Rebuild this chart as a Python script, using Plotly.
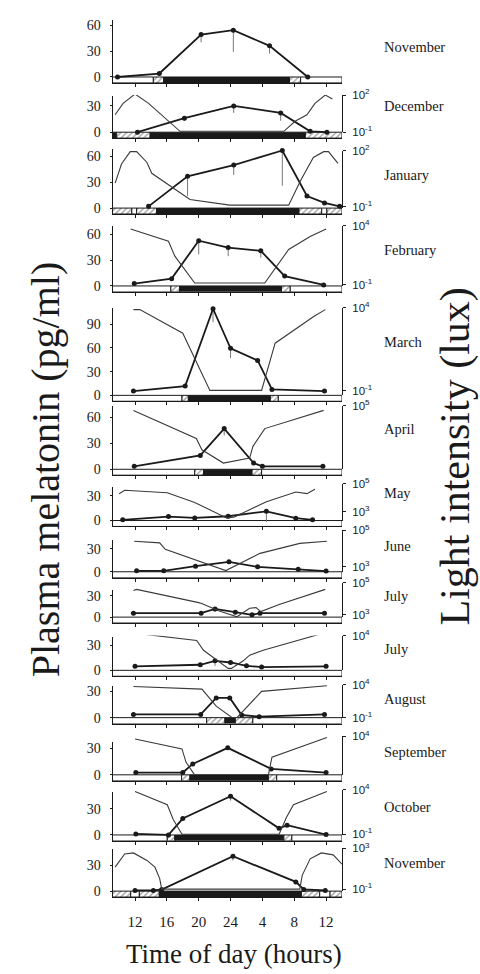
import plotly.graph_objects as go

# ---------------------------------------------------------------- data
MONTHS = ["November", "December", "January", "February", "March", "April",
          "May", "June", "July", "July", "August", "September", "October",
          "November"]

HOUR_TICKS = [12, 16, 20, 24, 28, 32, 36]
HOUR_LABELS = ["12", "16", "20", "24", "4", "8", "12"]

# plasma melatonin (pg/ml): sampling time (h, continuous clock), mean, lower SE
MEL_TIME = [
    [9.8, 15.05, 20.3, 24.35, 28.9, 33.7],
    [12.3, 18.2, 24.4, 30.3, 34.0, 36.1],
    [13.7, 18.6, 24.4, 30.5, 33.6, 35.8, 37.7],
    [11.9, 16.6, 20.0, 23.7, 27.8, 30.8, 35.7],
    [11.8, 18.3, 21.8, 24.0, 27.4, 29.2, 35.8],
    [11.9, 20.2, 23.2, 26.9, 28.0, 35.6],
    [10.45, 16.2, 19.5, 23.7, 28.5, 32.2, 34.3],
    [12.2, 15.6, 19.6, 23.8, 27.4, 32.5, 36.0],
    [11.8, 20.3, 22.05, 24.6, 26.7, 27.7, 35.8],
    [12.0, 20.2, 22.05, 24.0, 26.0, 27.9, 36.0],
    [11.8, 20.25, 22.2, 23.9, 25.4, 27.6, 35.8],
    [12.1, 18.0, 19.25, 23.65, 29.1, 36.0],
    [12.1, 16.2, 18.0, 24.0, 30.1, 31.1, 36.0],
    [12.0, 14.3, 15.35, 24.3, 32.2, 33.2, 35.9],
]
MEL_VALUE = [
    [0, 4, 49, 54, 36, 0],
    [0, 16, 30, 22, 1, 0],
    [2, 37, 50, 67, 14, 6, 2],
    [2.7, 8.5, 52.7, 44.7, 40.9, 11.5, 1.2],
    [5.4, 11.7, 109.6, 59.6, 44.2, 7.5, 5.4],
    [3.4, 15.9, 46.8, 7.1, 3.4, 3.4],
    [0.8, 4.8, 3.2, 5.2, 11.2, 2.8, 0.8],
    [1.3, 1.3, 7.3, 12.9, 6.4, 3.4, 0.9],
    [5.5, 5.5, 11.5, 6.9, 3.2, 5.5, 5.5],
    [4.7, 6.6, 11.3, 9.3, 5.4, 3.9, 4.7],
    [3.7, 3.7, 22.5, 22.5, 3.0, 1.1, 3.7],
    [2.6, 2.6, 12.4, 30.7, 6.7, 2.6],
    [1.1, 0, 18.7, 44.2, 7.5, 11.2, 0.4],
    [0.8, 0.8, 1.9, 40.8, 10.8, 1.9, 0.8],
]
MEL_ERR = [
    [0, 0, 9, 25, 9, 0],
    [0, 3, 8, 9, 0, 0],
    [0, 23, 11.5, 41, 0, 0, 0],
    [0, 0, 16, 10, 8, 0, 0],
    [0, 0, 17, 12.5, 0, 0, 0],
    [0, 3, 8, 0, 0, 0],
    [0, 0, 0, 3, 13, 0, 0],
    [0, 0, 0, 0, 0, 0, 0],
    [0, 0, 4, 0, 0, 0, 0],
    [0, 0, 6, 0, 0, 0, 0],
    [0, 0, 0, 0, 0, 0, 0],
    [0, 0, 0, 0, 0, 0],
    [0, 0, 0, 5, 0, 0, 0],
    [0, 0, 0, 5, 0, 0, 0],
]

# light intensity, log10(lux)
LIGHT_TIME = [
    None,
    [9.5, 10.5, 12.0, 13.7, 17.65, 30.7, 32.1, 33.6, 34.6, 35.9, 36.8],
    [9.5, 10.3, 11.4, 12.2, 13.5, 14.1, 18.9, 23.9, 31.3, 32.8, 34.4, 35.7, 36.3, 37.5],
    [11.45, 16.2, 17.0, 19.5, 28.3, 31.3, 34.0, 36.0],
    [11.8, 12.6, 18.0, 21.4, 27.9, 29.6, 34.4, 35.9],
    [11.8, 19.7, 20.4, 23.1, 26.4, 26.8, 28.3, 35.7],
    [10.0, 10.7, 16.05, 19.5, 23.5, 24.4, 28.5, 32.2, 33.6, 34.6],
    [11.9, 15.1, 15.8, 19.7, 23.4, 27.7, 32.7, 36.1],
    [11.8, 12.2, 20.0, 20.3, 22.5, 24.6, 24.8, 26.4, 27.2, 27.8, 30.2, 35.9],
    [12.0, 19.75, 20.6, 21.85, 23.7, 24.1, 25.6, 26.4, 28.1, 35.6, 35.9],
    [11.8, 20.4, 22.2, 24.2, 24.8, 27.9, 36.1],
    [12.0, 17.9, 18.4, 19.5, 28.75, 29.2, 36.1],
    [12.0, 16.05, 16.8, 17.9, 30.1, 31.0, 31.9, 36.1],
    [9.5, 10.7, 11.8, 13.5, 14.5, 15.1, 15.35, 32.7, 33.0, 34.0, 35.4, 36.9, 38.0],
]
LIGHT_LOG10 = [
    None,
    [0.41, 1.33, 2.08, 1.33, -0.93, -0.93, -0.12, 0.41, 1.33, 2.0, 1.68],
    [0.27, 1.3, 1.96, 1.96, 1.38, 0.8, -0.61, -0.91, -0.91, 0.41, 1.65, 1.96, 1.96, 1.33],
    [3.73, 2.69, 1.44, -0.83, -0.83, 2.0, 3.1, 3.73],
    [3.88, 3.88, 2.46, -0.98, -0.98, 1.86, 3.45, 3.88],
    [4.55, 1.96, 0.91, -0.31, 0.15, 1.21, 2.87, 4.55],
    [4.29, 4.53, 4.36, 3.66, 2.55, 2.6, 3.71, 4.41, 4.29, 4.6],
    [4.4, 4.31, 3.95, 3.37, 2.78, 3.73, 4.28, 4.4],
    [4.51, 4.58, 3.76, 3.72, 3.25, 2.88, 2.88, 3.41, 3.45, 3.2, 3.66, 4.58],
    [4.13, 3.72, 3.16, 2.75, 2.13, 2.13, 2.56, 2.88, 3.16, 4.13, 4.05],
    [3.75, 3.35, 0.75, -1.0, -1.0, 3.0, 3.85],
    [3.66, 2.42, 0.77, -0.88, -0.88, 1.39, 3.87],
    [3.81, 2.33, 0.67, -1.0, -1.0, 0.85, 2.33, 3.81],
    [1.16, 2.46, 2.56, 1.82, 1.16, 0.04, -1.0, -1.0, 0.36, 1.98, 2.56, 2.37, 1.45],
]

# photoperiod bar: switch times (h) and phase of each segment
# L = light, T = twilight, D = dark
PHOTO_SWITCH = [
    [14.3, 15.6, 31.4, 32.8],
    [9.7, 13.9, 33.4],
    [11.6, 12.2, 14.7, 32.6, 35.45, 36.1],
    [16.5, 17.6, 30.4, 31.5],
    [17.9, 18.7, 29.0, 30.0],
    [19.5, 20.6, 26.7, 27.9],
    [],
    [],
    [],
    [],
    [21.0, 23.3, 24.6, 26.8],
    [17.85, 18.9, 28.75, 29.8],
    [16.05, 17.0, 30.7, 31.7],
    [11.46, 12.54, 15.05, 32.9, 35.2, 36.5],
]
PHOTO_PHASE = [
    "LTDTL", "DTDT", "TLTDTLT", "LTDTL", "LTDTL", "LTDTL", "L", "L", "L", "L",
    "LTDTL", "LTDTL", "LTDTL", "TLTDTLT",
]

# ---------------------------------------------------------------- layout
W, H = 480, 974
X_MIN, X_MAX = 9.17, 38.0
X_LEFT_PX, X_RIGHT_PX = 112.5, 342.0
BAR_PX = 6.0

PANEL_TOP_PX = [12, 89, 143, 221, 304, 404, 486, 540, 590, 638, 688, 745, 795, 853]
PANEL_BASE_PX = [70, 126, 203, 282, 393, 468, 520, 572, 618, 672, 720, 778, 839, 896]
MEL_AXIS_MAX = [66, 41.6, 68.8, 70, 111, 72.5, 40.8, 41, 38.8, 39.7, 36, 37, 49.5, 49.6]
MEL_TICKS = [[0, 30, 60], [0, 30], [0, 30, 60], [0, 30, 60], [0, 30, 60, 90],
             [0, 30, 60], [0, 30], [0, 30], [0, 30], [0, 30], [0, 30], [0, 30],
             [0, 30], [0, 30]]
# labelled decades of the lux axis (upper, lower) and their pixel rows
LUX_EXP = [None, (2, -1), (2, -1), (4, -1), (4, -1), (5, -1), (5, 3), (5, 3),
           (5, 3), (4, 2), (4, -1), (4, -1), (4, -1), (3, -1)]
LUX_PX = [None, (88.3, 126), (145, 201.7), (221, 281), (304, 388.3),
          (403.3, 469.3), (482.7, 511), (530, 566.7), (583, 615.7),
          (636.7, 672.3), (686.7, 720), (739, 779.3), (793.3, 838.3),
          (852.7, 894)]
MONTH_Y_PX = [40, 99, 169, 246, 339, 427, 492, 546, 597, 650, 701, 755, 811, 867]

SERIF = "Liberation Serif"
SANS = "Liberation Sans"
INK = "#1a1a1a"


def fy(px):
    return 1 - px / H


def sup(e):
    return f"10<sup>{e}</sup>"


fig = go.Figure()
layout = {}
annotations = []
PHASE_COLOR = {"L": "white", "T": "white", "D": INK}
PHASE_SHAPE = {"L": "", "T": "/", "D": ""}

for i in range(14):
    n = i + 1
    xa = "x" if n == 1 else f"x{n}"
    ya = "y" if n == 1 else f"y{n}"
    xkey = "xaxis" if n == 1 else f"xaxis{n}"
    ykey = "yaxis" if n == 1 else f"yaxis{n}"
    top, base = PANEL_TOP_PX[i], PANEL_BASE_PX[i]
    ymax = MEL_AXIS_MAX[i]
    ppu = (base - top) / ymax
    ymin = -BAR_PX / ppu
    last = n == 14

    layout[xkey] = dict(
        domain=[X_LEFT_PX / W, X_RIGHT_PX / W], range=[X_MIN, X_MAX],
        anchor=ya, showline=True, linecolor=INK, linewidth=1,
        ticks="outside", ticklen=3, tickwidth=1, tickcolor=INK,
        tickvals=HOUR_TICKS, ticktext=HOUR_LABELS, showticklabels=last,
        tickfont=dict(family=SERIF, size=15, color=INK), ticklabelstandoff=8,
        showgrid=False, zeroline=False, fixedrange=True,
    )
    layout[ykey] = dict(
        domain=[fy(base + BAR_PX), fy(top)], range=[ymin, ymax], anchor=xa,
        showline=True, linecolor=INK, linewidth=1, ticks="outside",
        ticklen=2, tickcolor=INK, tickvals=MEL_TICKS[i],
        tickfont=dict(family=SERIF, size=14, color=INK), ticklabelstandoff=6,
        showgrid=False, zeroline=False, fixedrange=True,
    )

    # light intensity on its own log axis at the right
    if LIGHT_TIME[i] is not None:
        rn = 14 + n
        hi_e, lo_e = LUX_EXP[i]
        hi_px, lo_px = LUX_PX[i]
        ppd = (lo_px - hi_px) / (hi_e - lo_e)
        r_lo = lo_e - (base - lo_px) / ppd
        layout[f"yaxis{rn}"] = dict(
            domain=[fy(base), fy(hi_px)], type="log", range=[r_lo, hi_e],
            anchor=xa, side="right", showline=True, linecolor=INK,
            linewidth=1, ticks="outside", ticklen=3, tickcolor=INK,
            tickvals=[10 ** lo_e, 10 ** hi_e], ticktext=[sup(lo_e), sup(hi_e)],
            tickfont=dict(family=SANS, size=11.5, color=INK),
            ticklabelstandoff=4, showgrid=False, zeroline=False,
            fixedrange=True,
        )
        fig.add_trace(go.Scatter(
            x=LIGHT_TIME[i], y=[10 ** v for v in LIGHT_LOG10[i]],
            mode="lines", line=dict(color="#3a3a3a", width=1.1),
            xaxis=xa, yaxis=f"y{rn}", cliponaxis=False,
            showlegend=False, hoverinfo="skip",
        ))

    # photoperiod bar under the baseline
    edges = [X_MIN] + PHOTO_SWITCH[i] + [X_MAX]
    phases = list(PHOTO_PHASE[i])
    k = len(phases)
    fig.add_trace(go.Bar(
        orientation="h", y=[ymin / 2] * k,
        x=[edges[j + 1] - edges[j] for j in range(k)], base=edges[:-1],
        width=[-ymin] * k,
        marker=dict(
            color=[PHASE_COLOR[p] for p in phases],
            line=dict(color=INK, width=1),
            pattern=dict(shape=[PHASE_SHAPE[p] for p in phases],
                         fgcolor=INK, bgcolor="white", size=4, solidity=0.35),
        ),
        xaxis=xa, yaxis=ya, showlegend=False, hoverinfo="skip",
    ))

    # melatonin profile
    fig.add_trace(go.Scatter(
        x=MEL_TIME[i], y=MEL_VALUE[i], mode="lines+markers",
        line=dict(color=INK, width=1.8),
        marker=dict(color=INK, size=5),
        error_y=dict(type="data", symmetric=False,
                     array=[0] * len(MEL_ERR[i]), arrayminus=MEL_ERR[i],
                     width=0, thickness=1, color="#777777"),
        xaxis=xa, yaxis=ya, cliponaxis=False,
        showlegend=False, hoverinfo="skip",
    ))

    annotations.append(dict(
        text=MONTHS[i], x=382 / W, y=fy(MONTH_Y_PX[i]), xref="paper",
        yref="paper", xanchor="left", yanchor="middle", showarrow=False,
        font=dict(family=SERIF, size=14.5, color=INK),
    ))

annotations += [
    dict(text="Plasma melatonin (pg/ml)", x=45 / W, y=fy(468), xref="paper",
         yref="paper", textangle=-90, showarrow=False,
         xanchor="center", yanchor="middle",
         font=dict(family=SERIF, size=40, color=INK)),
    dict(text="Light intensity (lux)", x=455 / W, y=fy(455), xref="paper",
         yref="paper", textangle=-90, showarrow=False,
         xanchor="center", yanchor="middle",
         font=dict(family=SERIF, size=42, color=INK)),
    dict(text="Time of day (hours)", x=234 / W, y=fy(960), xref="paper",
         yref="paper", showarrow=False, xanchor="center", yanchor="middle",
         font=dict(family=SERIF, size=27, color=INK)),
]

fig.update_layout(
    width=W, height=H, margin=dict(l=0, r=0, t=0, b=0),
    paper_bgcolor="white", plot_bgcolor="rgba(0,0,0,0)",
    barmode="overlay", annotations=annotations, **layout,
)

fig.write_html("out.html")
